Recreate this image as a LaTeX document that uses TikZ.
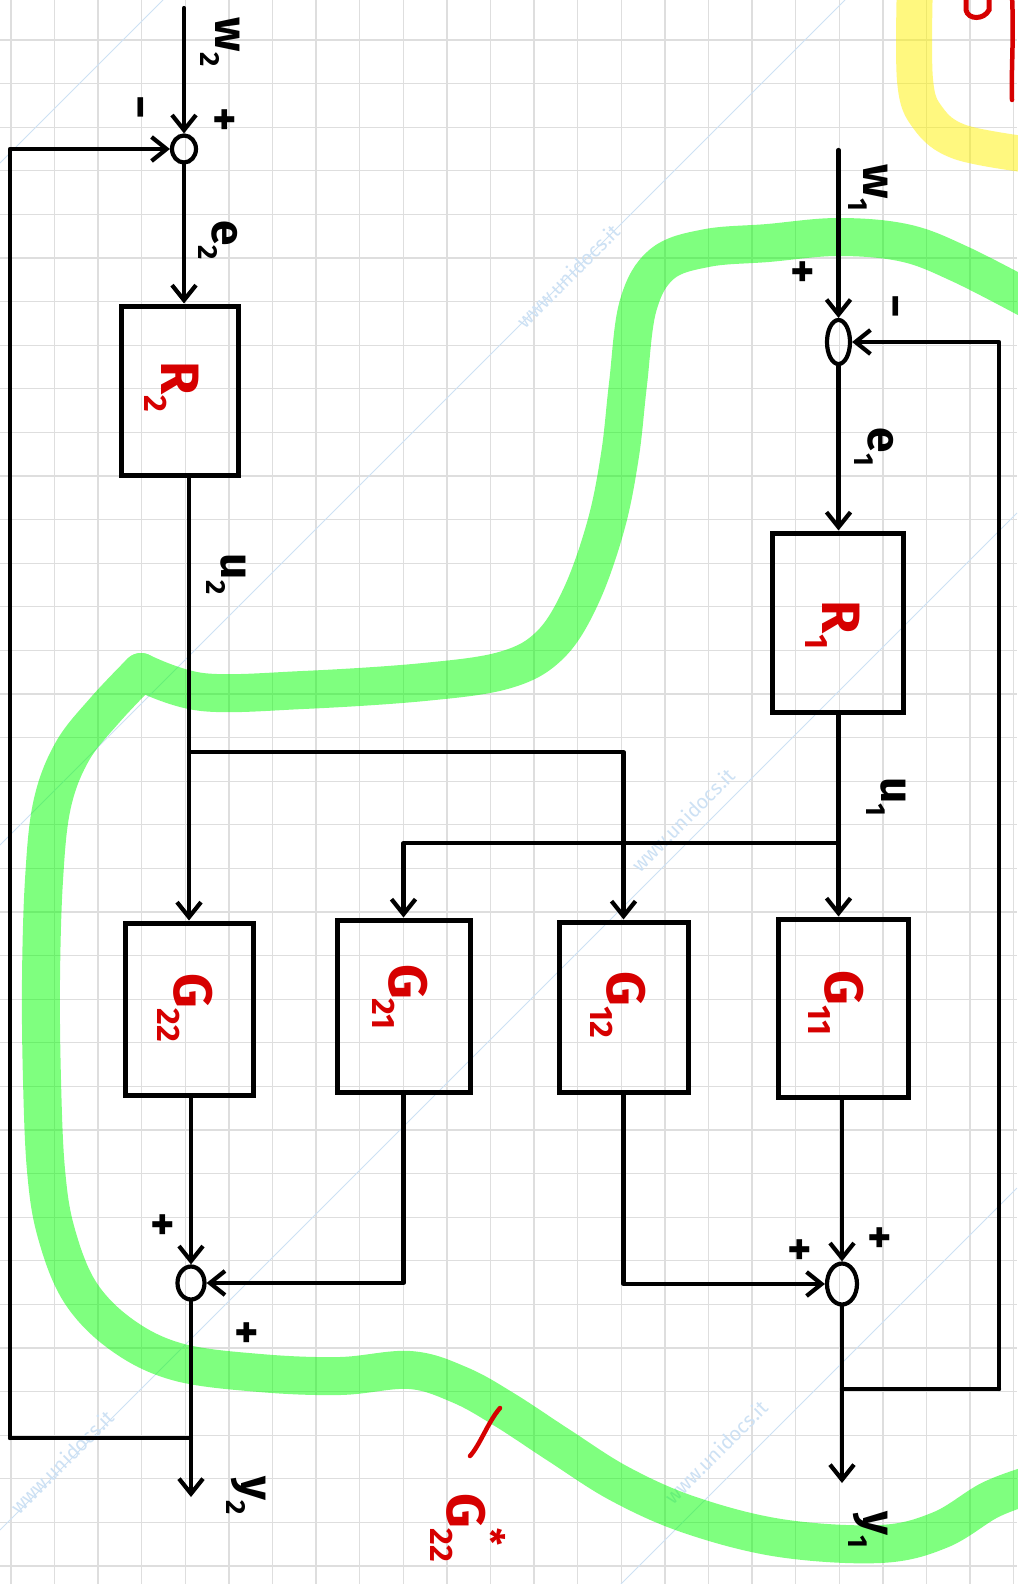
\documentclass[tikz,border=0pt]{standalone}
\usepackage{fontspec}
\setmainfont{Fira Sans}
\usetikzlibrary{arrows.meta,shapes.geometric}
\definecolor{penred}{RGB}{214,0,0}
\definecolor{gridgray}{RGB}{222,222,222}
\definecolor{wmblue}{RGB}{205,225,244}
\newcommand\lo[1]{\raisebox{-0.32em}{\scalebox{0.6}{#1}}}
\newcommand\hi[1]{\raisebox{0.55em}{\scalebox{0.7}{#1}}}
\begin{document}
\begin{tikzpicture}[x=1pt,y=-1pt,
  wire/.style={line width=4.2pt, line cap=round, line join=round},
  arr/.style={wire, -{Straight Barb[length=15pt,width=24pt,line width=4.2pt]}},
  blk/.style={draw, line width=5pt, inner sep=0pt},
  sum/.style={draw, ellipse, line width=4.2pt, inner sep=0pt},
  lbl/.style={rotate=-90, inner sep=0pt, font=\fontsize{46}{46}\selectfont\bfseries},
  sgn/.style={rotate=-90, inner sep=0pt, font=\fontsize{46}{46}\selectfont\bfseries},
  rlbl/.style={rotate=-90, inner sep=0pt, text=penred, font=\fontsize{54}{54}\selectfont\bfseries},
  marker/.style={line width=38pt, line cap=round, line join=round}]

% page and squared paper
\fill[white] (0,0) rectangle (1017,1584);
\useasboundingbox (0,0) rectangle (1017,1584);
\foreach \i in {0,...,23} \draw[gridgray, line width=1.3pt] (10.9+43.6*\i,0) -- (10.9+43.6*\i,1584);
\foreach \j in {1,...,37} \draw[gridgray, line width=1.3pt] (0,-3.6+43.6*\j) -- (1017,-3.6+43.6*\j);

% faint diagonal watermark rules
\begin{scope}[wmblue, line width=1pt]
  \draw (0,163) -- (163,0);
  \draw (0,845) -- (845,0);
  \draw (0,1530) -- (1017,513);
  \draw (621,1584) -- (1017,1188);
\end{scope}
\begin{scope}[text=wmblue, font=\fontsize{20}{20}\selectfont]
  \node[rotate=45] (wm1) at (568,276) {www.unidocs.it};
  \node[rotate=45] (wm2) at (683,820) {www.unidocs.it};
  \node[rotate=45] (wm3) at (716,1452) {www.unidocs.it};
  \node[rotate=45] (wm4) at (62,1462) {www.unidocs.it};
\end{scope}

% highlighter strokes
\begin{scope}[transparency group, opacity=0.5]
  \draw[marker, green] plot[smooth, tension=0.6] coordinates {
    (141,672) (202,692) (303,690) (424,682) (505,670) (550,645) (581,596)
    (606,525) (620,455) (628,384) (638,306) (662,264) (707,248) (768,243)
    (838,237) (905,243) (960,264) (1030,300)};
  \draw[marker, green] plot[smooth, tension=0.6] coordinates {
    (141,672) (105,710) (72,752) (52,805) (44,880) (41,980) (42,1080)
    (46,1170) (56,1232) (80,1292) (122,1335) (178,1362) (260,1373)
    (340,1376) (410,1370) (460,1385) (505,1410) (560,1446) (620,1484)
    (690,1515) (780,1538) (880,1544) (940,1530) (990,1500) (1030,1485)};
  \draw[marker, yellow, line width=36pt] plot[smooth, tension=0.6] coordinates {
    (915,-20) (915,80) (928,118) (960,142) (1030,155)};
\end{scope}

% red pen marks
\draw[penred, line width=4.5pt, line cap=round]
  (1012,-5) .. controls (1014,40) and (1011,70) .. (1012,100);
\draw[penred, line width=5pt, line cap=round]
  (966,-5) -- (966,10) .. controls (968,20) and (984,20) .. (989,10) -- (989,-5);
\draw[penred, line width=4.5pt, line cap=round]
  (500,1408) .. controls (488,1422) and (480,1445) .. (470,1456);

% blocks
\node[blk, minimum width=117pt, minimum height=169pt] (R2) at (179.5,390.5) {};
\node[blk, minimum width=131pt, minimum height=179pt] (R1) at (837.5,622.5) {};
\node[blk, minimum width=128pt, minimum height=172pt] (G22) at (189,1009) {};
\node[blk, minimum width=133pt, minimum height=172pt] (G21) at (403.5,1006) {};
\node[blk, minimum width=129pt, minimum height=170pt] (G12) at (623.5,1007) {};
\node[blk, minimum width=130pt, minimum height=178pt] (G11) at (843,1008) {};

% summing points
\node[sum, minimum width=24pt, minimum height=27pt] (S2) at (184,149) {};
\node[sum, minimum width=23pt, minimum height=44pt] (S1) at (838.5,342) {};
\node[sum, minimum width=27pt, minimum height=33pt] (S3) at (191,1283) {};
\node[sum, minimum width=30pt, minimum height=41pt] (S4) at (842,1284) {};

% free ends and corners
\coordinate (w2in) at (184,8);
\coordinate (w1in) at (838.5,150);
\coordinate (tapL) at (191,1438);
\coordinate (cL) at (10,1438);
\coordinate (y2end) at (191,1497);
\coordinate (tapR) at (842,1389);
\coordinate (cR) at (999,1389);
\coordinate (y1end) at (842,1483);
\coordinate (b2) at (189,752);
\coordinate (b1) at (838.5,843);

% loop 2
\draw[arr] (w2in) -- (S2);
\draw[arr] (S2.south) -- (S2.south |- R2.north);
\draw[arr] (R2.south -| G22.north) -- (G22.north);
\draw[arr] (b2) -| (G12.north);
\draw[arr] (S3.north |- G22.south) -- (S3.north);
\draw[arr] (G21.south) |- (S3.east);
\draw[arr] (S3.south) -- (y2end);
\draw[wire] (tapL) -- (cL);
\draw[arr] (cL) |- (S2.west);

% loop 1
\draw[arr] (w1in) -- (S1);
\draw[arr] (S1.south) -- (S1.south |- R1.north);
\draw[arr] (R1.south -| b1) -- (b1 |- G11.north);
\draw[arr] (b1) -| (G21.north);
\draw[arr] (S4.north |- G11.south) -- (S4.north);
\draw[arr] (G12.south) |- (S4.west);
\draw[arr] (S4.south) -- (y1end);
\draw[wire] (tapR) -- (cR);
\draw[arr] (cR) |- (S1.east);

% signal names
\node[lbl] (lw2) at (220,42) {w\lo{2}};
\node[lbl] (le2) at (218,240) {e\lo{2}};
\node[lbl] (lu2) at (226,574) {u\lo{2}};
\node[lbl] (lw1) at (868,188) {w\lo{1}};
\node[lbl] (le1) at (874,447) {e\lo{1}};
\node[lbl] (lu1) at (886,797) {u\lo{1}};
\node[lbl] (ly2) at (246,1496) {y\lo{2}};
\node[lbl] (ly1) at (868,1530) {y\lo{1}};

% signs at the summing points
\node[sgn] (m2) at (135,107) {−};
\node[sgn] (p2) at (222,120) {+};
\node[sgn] (p1) at (800,272) {+};
\node[sgn] (m1) at (890,306) {−};
\node[sgn] (p3a) at (160,1225) {+};
\node[sgn] (p3b) at (244,1333) {+};
\node[sgn] (p4a) at (877,1238) {+};
\node[sgn] (p4b) at (797,1250) {+};

% block names
\node[rlbl] (tR2) at (172,387) {R\lo{2}};
\node[rlbl] (tR1) at (833,625) {R\lo{1}};
\node[rlbl] (tG22) at (185,1008) {G\lo{22}};
\node[rlbl] (tG21) at (400,997) {G\lo{21}};
\node[rlbl] (tG12) at (618,1005) {G\lo{12}};
\node[rlbl] (tG11) at (836,1003) {G\lo{11}};
\node[rlbl] (tGs) at (468,1528) {G\rlap{\hi{*}}\lo{22}};
\end{tikzpicture}
\end{document}
